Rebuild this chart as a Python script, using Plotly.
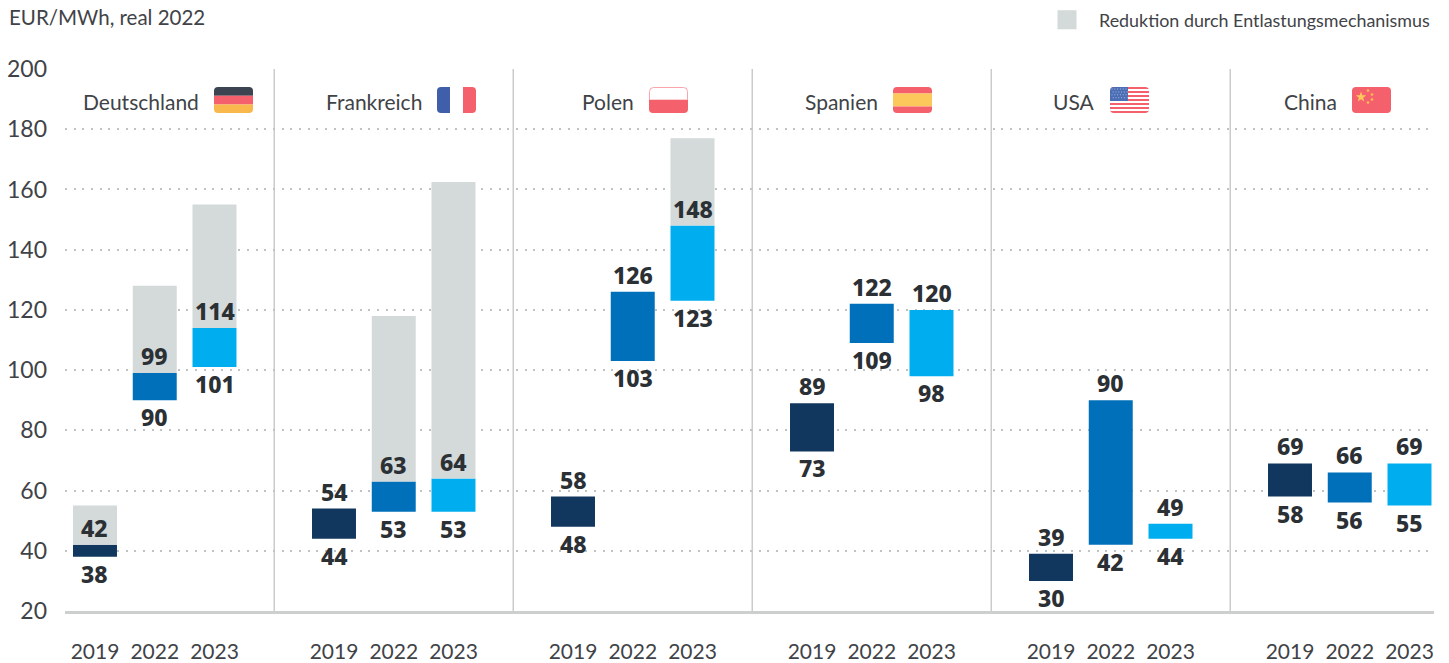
import math
import plotly.graph_objects as go

WIDTH, HEIGHT = 1449, 663
ML, MR, MT, MB = 65, 15, 69, 52

countries = ["Deutschland", "Frankreich", "Polen", "Spanien", "USA", "China"]
years = ["2019", "2022", "2023"]

low_2019 = [38, 44, 48, 73, 30, 58]
high_2019 = [42, 54, 58, 89, 39, 69]
low_2022 = [90, 53, 103, 109, 42, 56]
high_2022 = [99, 63, 126, 122, 90, 66]
low_2023 = [101, 53, 123, 98, 44, 55]
high_2023 = [114, 64, 148, 120, 49, 69]

gross_2019 = [55, None, None, None, None, None]
gross_2022 = [128, 118, None, None, None, None]
gross_2023 = [155, 162.5, 177, None, None, None]

lows = [low_2019, low_2022, low_2023]
highs = [high_2019, high_2022, high_2023]
grosses = [gross_2019, gross_2022, gross_2023]

colors = ["#12375f", "#0070ba", "#00aeef"]
GREY = "#d4d9d9"
TEXT = "#3f4347"
LABEL = "#2b3035"
FONT = "Lato"
BOLD = "Noto Sans"
SLOTS = 4
BAR_W = 0.736
XMIN, XMAX = -0.502, 22.41
LABEL_GAP = 17


def px(x):
    return (x - ML) / (WIDTH - ML - MR)


def py(y):
    return 1 - (y - MT) / (HEIGHT - MT - MB)


def slot(c, k):
    return c * SLOTS + k


fig = go.Figure()
annotations = []

for k, year in enumerate(years):
    xs = [slot(c, k) for c in range(len(countries))]
    fig.add_trace(go.Bar(
        x=xs, y=[h - l for h, l in zip(highs[k], lows[k])], base=lows[k], width=BAR_W,
        marker=dict(color=colors[k], line_width=0), showlegend=False, name=year,
    ))
    fig.add_trace(go.Bar(
        x=xs,
        y=[(g - h) if g is not None else None for g, h in zip(grosses[k], highs[k])],
        base=highs[k], width=BAR_W,
        marker=dict(color=GREY, line_width=0), showlegend=False,
        name="Reduktion durch Entlastungsmechanismus",
    ))
    for x, hi, lo in zip(xs, highs[k], lows[k]):
        for val, shift in ((hi, LABEL_GAP), (lo, -LABEL_GAP)):
            annotations.append(dict(
                text=str(val), x=x, y=val, xref="x", yref="y", yshift=shift,
                xanchor="center", yanchor="middle", showarrow=False,
                font=dict(family=BOLD, size=23, color=LABEL, weight=800),
            ))

fig.add_trace(go.Scatter(
    x=[None], y=[None], mode="markers",
    marker=dict(symbol="square", size=16, color=GREY, line=dict(color=GREY, width=3)),
    name="Reduktion durch Entlastungsmechanismus", showlegend=True,
))

shapes = []
for c in range(1, len(countries)):
    sx = slot(c, 0) - 1
    shapes.append(dict(type="line", xref="x", yref="y", x0=sx, x1=sx, y0=20, y1=200,
                       line=dict(color="#c9cbcc", width=1.5), layer="below"))


def rr(x0, y0, x1, y1, tl=0, tr=0, br=0, bl=0):
    p = f"M {px(x0 + tl)} {py(y0)} L {px(x1 - tr)} {py(y0)} "
    if tr:
        p += f"Q {px(x1)} {py(y0)} {px(x1)} {py(y0 + tr)} "
    p += f"L {px(x1)} {py(y1 - br)} "
    if br:
        p += f"Q {px(x1)} {py(y1)} {px(x1 - br)} {py(y1)} "
    p += f"L {px(x0 + bl)} {py(y1)} "
    if bl:
        p += f"Q {px(x0)} {py(y1)} {px(x0)} {py(y1 - bl)} "
    p += f"L {px(x0)} {py(y0 + tl)} "
    if tl:
        p += f"Q {px(x0)} {py(y0)} {px(x0 + tl)} {py(y0)} "
    return p + "Z"


def area(path, color, line=None):
    shapes.append(dict(type="path", xref="paper", yref="paper", path=path, fillcolor=color,
                       line=dict(width=1 if line else 0, color=line or color), layer="above"))


def star(cx, cy, r):
    pts = []
    for i in range(10):
        a = -math.pi / 2 + i * math.pi / 5
        q = r if i % 2 == 0 else r * 0.42
        pts.append((cx + q * math.cos(a), cy + q * math.sin(a)))
    return "M " + " L ".join(f"{px(a)} {py(b)}" for a, b in pts) + " Z"


FW, FH, R = 39, 26, 4
RED, YEL, DARK, BLUE = "#f4606c", "#f9b84b", "#3c4452", "#3f5fab"
TOP = 87


def hstripes(x, bands):
    y = TOP
    n = len(bands)
    for i, (h, col) in enumerate(bands):
        r_top = R if i == 0 else 0
        r_bot = R if i == n - 1 else 0
        area(rr(x, y, x + FW, y + h, r_top, r_top, r_bot, r_bot), col)
        y += h


flag_x = [214, 437, 649, 893, 1110, 1352]
hstripes(flag_x[0], [(8.7, DARK), (8.7, RED), (8.6, YEL)])
area(rr(flag_x[1], TOP, flag_x[1] + 13, TOP + FH, R, 0, 0, R), BLUE)
area(rr(flag_x[1] + 26, TOP, flag_x[1] + FW, TOP + FH, 0, R, R, 0), RED)
area(rr(flag_x[2] + .5, TOP + .5, flag_x[2] + FW - .5, TOP + 13, R, R, 0, 0), "#ffffff", "#f9a5ab")
area(rr(flag_x[2], TOP + 13, flag_x[2] + FW, TOP + FH, 0, 0, R, R), RED)
hstripes(flag_x[3], [(6.5, RED), (13, "#fcc75b"), (6.5, RED)])
hstripes(flag_x[4], [(2, RED)] + [(2, "#ffffff") if i % 2 == 0 else (2, RED) for i in range(12)])
area(rr(flag_x[4], TOP, flag_x[4] + 18, TOP + 14, R, 0, 0, 0), "#4a6db4")
dots = ""
for row in range(4):
    for col in range(6):
        dx = flag_x[4] + 1.5 + col * 2.8 + (row % 2) * 1.2
        dy = TOP + 1.5 + row * 2.9
        dots += f"M {px(dx)} {py(dy)} L {px(dx + 1)} {py(dy)} L {px(dx + 1)} {py(dy + 1)} L {px(dx)} {py(dy + 1)} Z "
area(dots, "#a9bde2")
area(rr(flag_x[5], TOP, flag_x[5] + FW, TOP + FH, R, R, R, R), RED)
area(star(flag_x[5] + 9, TOP + 10, 5.5), "#fcc75b")
for dx, dy in [(16, 3.5), (20, 7.5), (20, 12.5), (16, 15.5)]:
    area(star(flag_x[5] + dx, TOP + dy, 2), "#fcc75b")

annotations.append(
    dict(text="EUR/MWh, real 2022", xref="paper", yref="paper", x=px(7), y=py(17),
         xanchor="left", yanchor="middle", showarrow=False,
         font=dict(family=FONT, size=20.5, color=TEXT)))
for name, fx in zip(countries, flag_x):
    annotations.append(dict(text=name, xref="paper", yref="paper", x=px(fx - 13), y=py(102),
                            xanchor="right", yanchor="middle", showarrow=False,
                            font=dict(family=FONT, size=21, color=TEXT)))

tickvals = [slot(c, k) for c in range(len(countries)) for k in range(len(years))]
ticktext = [years[k] for c in range(len(countries)) for k in range(len(years))]

fig.update_layout(
    width=WIDTH, height=HEIGHT,
    margin=dict(l=ML, r=MR, t=MT, b=MB, pad=0, autoexpand=False),
    paper_bgcolor="#ffffff", plot_bgcolor="#ffffff",
    barmode="overlay", shapes=shapes, annotations=annotations,
    font=dict(family=FONT, color=TEXT),
    legend=dict(x=px(1436), y=py(20), xanchor="right", yanchor="middle",
                bgcolor="rgba(0,0,0,0)", itemwidth=54, font=dict(family=FONT, size=17.9, color=TEXT)),
    xaxis=dict(range=[XMIN, XMAX], tickmode="array", tickvals=tickvals, ticktext=ticktext,
               showgrid=False, zeroline=False, showline=True, linecolor="#cdcfcf", linewidth=3,
               ticks="", ticklabelstandoff=20, automargin=False,
               tickfont=dict(family=FONT, size=21, color=TEXT)),
    yaxis=dict(range=[20, 200], tickmode="array", tickvals=list(range(20, 201, 20)),
               showgrid=True, gridcolor="#bfc3c3", gridwidth=2, griddash="2px,6.67px",
               zeroline=False, showline=False, ticks="", ticklabelstandoff=17, automargin=False,
               tickfont=dict(family=FONT, size=23, color=TEXT)),
)

fig.write_html("out.html", config=dict(displayModeBar=False),
               post_script="document.body.style.margin='0';")
